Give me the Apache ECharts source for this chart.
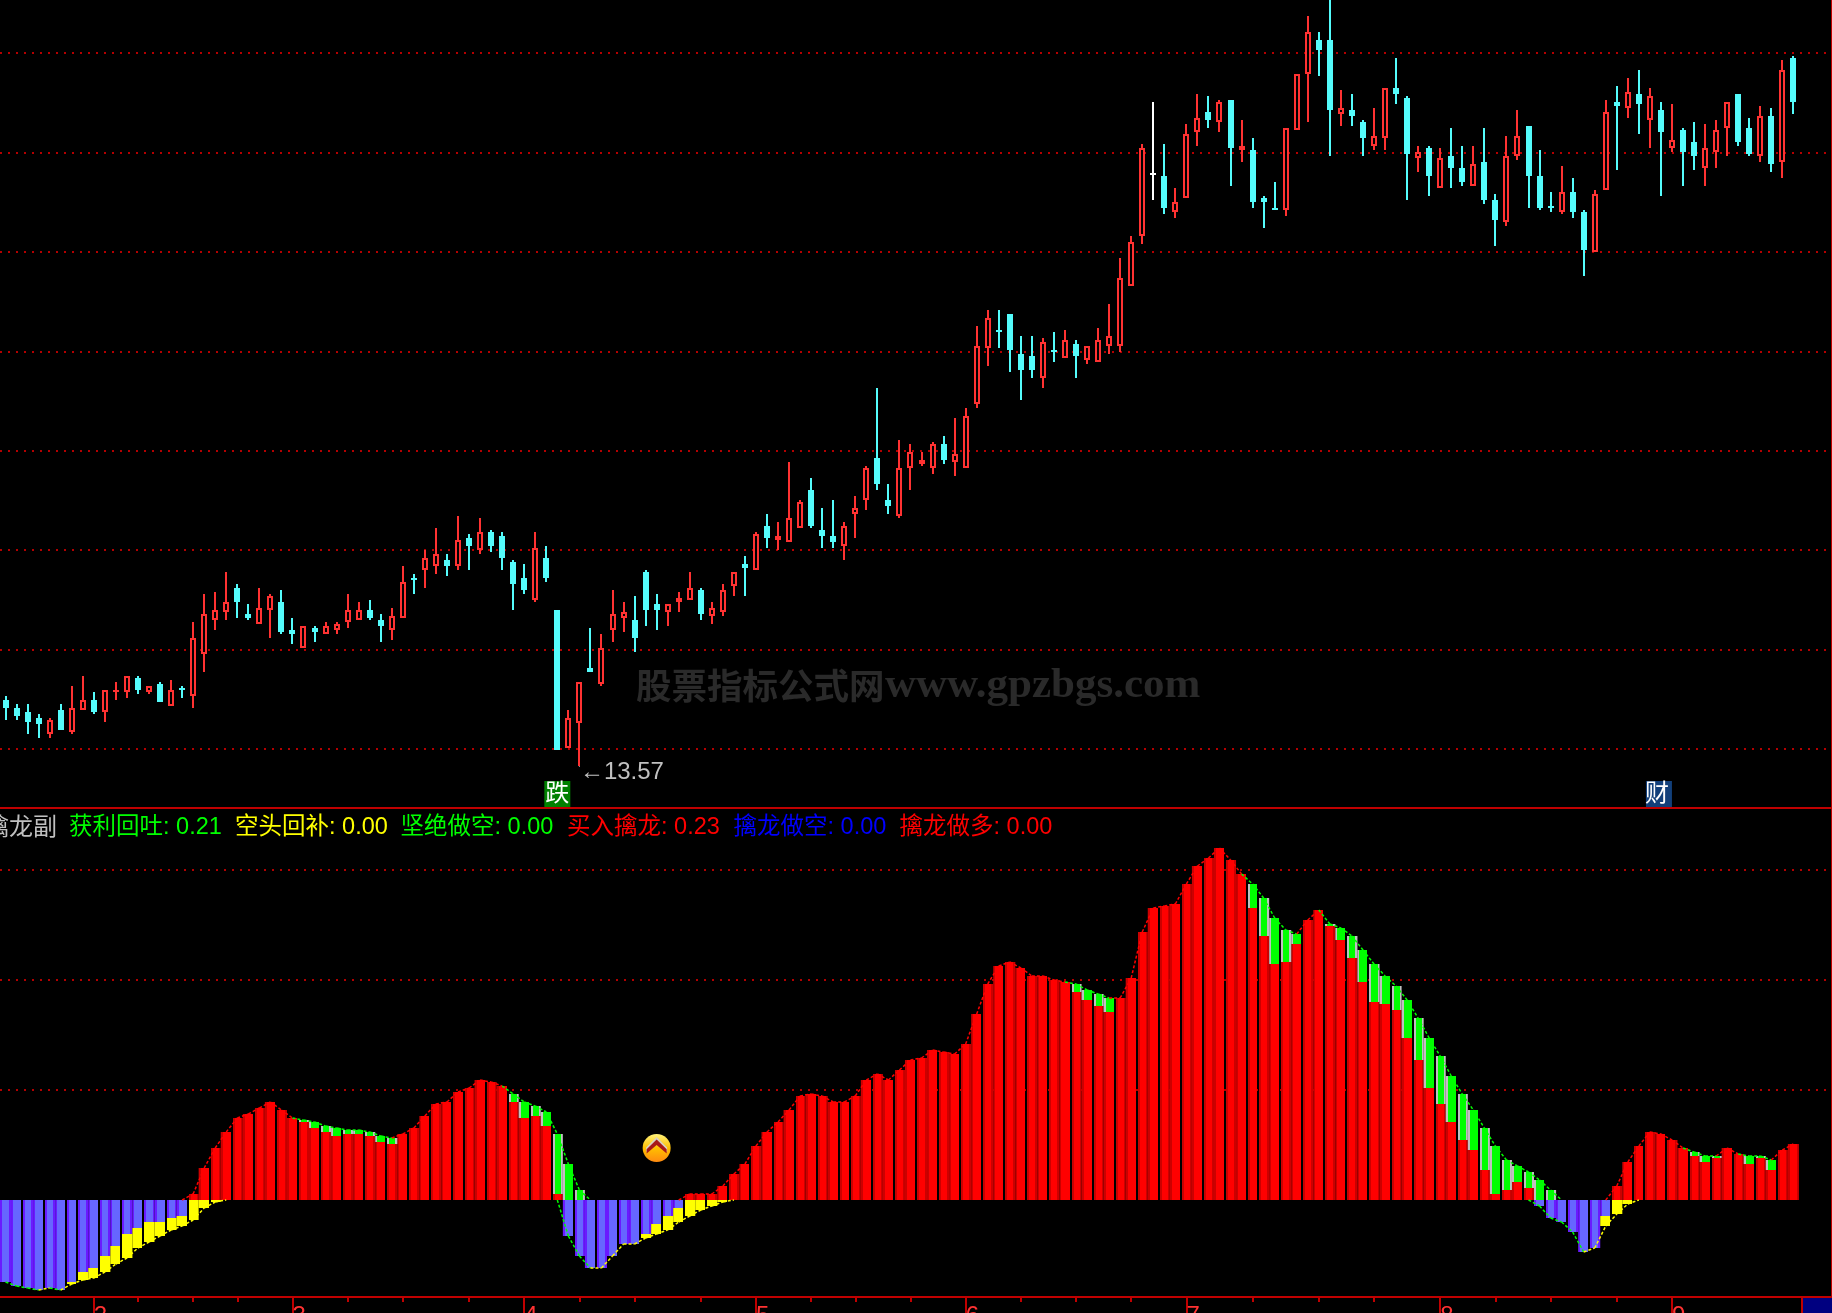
<!DOCTYPE html>
<html><head><meta charset="utf-8"><style>html,body{margin:0;padding:0;background:#000}#c{width:1832px;height:1313px}</style>
<script src="https://cdn.jsdelivr.net/npm/echarts@6/dist/echarts.min.js"></script></head><body><div id="c"></div>
<script>
const candleKinds=("ccccrcrrcr"+"rrcrcrcrrr"+"rccrrccrcr"+"rrrccrrcrr"+"crcrccccrc"+"crrcrrrccc"+"rrrcrrrcrc"+"rrrcccrrrc"+"crrrrcrrrr"+"ccccrcrcrr"+"rrrrwcrrrc"+"rcrcccrrrc"+"crccrrccrc"+"rccrccrrcc"+"crccrrcrcr"+"crccrrrccr"+"crc").split('');
const highs=[14.98,14.82,14.82,14.62,14.54,14.82,15.18,15.38,15.06,15.10,
15.26,15.38,15.38,15.18,15.26,15.30,15.18,16.46,17.02,17.06,
17.46,17.22,16.82,17.14,17.02,17.10,16.54,16.38,16.38,16.46,
16.46,17.02,16.86,16.90,16.62,16.74,17.58,17.42,17.90,18.34,
17.82,18.58,18.22,18.54,18.30,18.26,17.70,17.62,18.26,17.98,
16.70,14.70,15.26,16.34,16.22,17.10,16.86,16.98,17.50,17.02,
16.82,17.06,17.46,17.14,16.86,17.22,17.46,17.78,18.26,18.62,
18.46,19.66,18.90,19.34,18.74,18.90,18.46,18.98,19.58,21.14,
19.22,20.10,20.02,19.86,20.06,20.18,20.54,20.74,22.38,22.70,
22.70,22.62,22.18,22.18,22.14,22.26,22.30,22.10,21.98,22.34,
22.82,23.74,24.18,26.02,26.86,26.02,25.14,26.42,27.02,26.98,
26.90,26.90,26.50,26.14,24.98,25.26,26.34,27.42,28.58,28.26,
29.29,27.10,27.02,26.50,26.74,27.14,27.74,26.98,25.98,25.98,
25.94,26.34,25.98,25.98,26.34,25.02,26.18,26.70,26.38,25.90,
25.06,25.58,25.34,24.70,25.10,26.90,27.18,27.34,27.50,27.14,
26.86,26.82,26.34,26.46,26.42,26.50,26.86,27.02,26.54,26.78,
26.74,27.70,27.78];
const bodyTops=[14.90,14.74,14.66,14.54,14.50,14.70,14.74,14.90,14.90,15.10,
15.10,15.38,15.34,15.18,15.22,15.10,15.14,16.14,16.62,16.70,
16.86,17.14,16.62,16.74,16.98,16.86,16.30,16.38,16.34,16.38,
16.42,16.70,16.70,16.70,16.50,16.58,17.26,17.34,17.74,17.82,
17.70,18.10,18.14,18.26,18.26,18.18,17.66,17.34,17.94,17.74,
16.70,14.54,15.26,15.54,15.94,16.62,16.66,16.50,17.46,16.82,
16.82,16.94,17.14,17.10,16.74,17.10,17.46,17.62,18.22,18.38,
18.18,18.54,18.86,19.10,18.30,18.18,18.38,18.74,19.54,19.74,
18.90,19.54,19.86,19.70,20.02,20.02,19.82,20.58,21.98,22.54,
22.30,22.62,21.82,21.78,22.06,21.90,22.10,22.02,21.98,22.10,
22.18,23.34,24.06,25.94,25.44,25.38,24.86,26.22,26.54,26.66,
26.86,26.90,25.98,25.90,24.94,24.74,26.34,27.42,28.26,28.10,
28.10,26.74,26.70,26.46,26.18,27.14,27.14,26.94,25.86,25.94,
25.74,25.78,25.54,25.62,25.66,24.90,25.78,26.18,26.38,25.38,
24.78,25.06,25.06,24.66,25.02,26.66,26.86,27.06,27.02,26.98,
26.70,26.10,26.30,26.06,25.94,26.30,26.86,27.02,26.34,26.58,
26.58,27.50,27.74];
const bodyBottoms=[14.74,14.58,14.46,14.42,14.22,14.30,14.26,14.70,14.66,14.66,
15.06,15.06,15.10,15.06,14.86,14.78,15.10,14.98,15.82,16.50,
16.66,16.86,16.54,16.42,16.70,16.26,16.22,15.94,16.26,16.22,
16.30,16.46,16.50,16.54,16.38,16.30,16.54,17.30,17.50,17.58,
17.58,17.58,17.98,17.90,17.98,17.74,17.22,17.10,16.90,17.34,
13.90,13.94,14.43,15.46,15.22,16.30,16.54,16.14,16.70,16.70,
16.66,16.86,16.90,16.62,16.58,16.66,17.18,17.54,17.50,18.14,
18.10,18.06,18.34,18.38,18.18,18.06,17.98,18.62,18.90,19.22,
18.78,18.58,19.54,19.62,19.54,19.70,19.66,19.54,20.82,21.94,
22.26,21.90,21.50,21.50,21.34,21.86,21.74,21.78,21.70,21.66,
21.98,21.98,23.18,24.18,25.44,24.74,24.66,24.94,26.26,26.50,
26.46,25.94,25.90,24.86,24.86,24.70,24.70,26.30,27.42,27.90,
26.70,26.62,26.58,26.14,25.98,26.14,27.02,25.82,25.74,25.38,
25.14,25.54,25.26,25.18,24.90,24.50,24.46,25.78,25.38,24.74,
24.74,24.66,24.66,23.90,23.86,25.10,26.78,26.74,26.82,26.50,
26.26,25.94,25.86,25.78,25.54,25.86,26.34,26.06,25.82,25.78,
25.62,25.66,26.86];
const lows=[14.50,14.50,14.22,14.14,14.14,14.30,14.22,14.70,14.62,14.46,
14.90,14.94,15.02,15.02,14.86,14.78,14.94,14.74,15.46,16.30,
16.50,16.54,16.50,16.42,16.14,16.22,16.02,15.94,16.06,16.22,
16.22,16.34,16.50,16.50,16.06,16.10,16.54,17.02,17.14,17.42,
17.38,17.50,17.50,17.82,17.86,17.50,16.70,17.02,16.86,17.26,
13.90,13.94,13.57,15.46,15.18,16.06,16.26,15.86,16.38,16.30,
16.38,16.66,16.90,16.50,16.42,16.58,16.98,16.98,17.50,17.94,
17.90,18.06,18.34,18.34,17.94,17.94,17.70,18.14,18.70,19.10,
18.62,18.54,19.10,19.58,19.42,19.62,19.38,19.54,20.74,21.58,
21.94,21.46,20.90,21.34,21.14,21.66,21.74,21.34,21.62,21.66,
21.82,21.86,23.18,24.02,24.90,24.62,24.54,24.94,25.98,26.34,
26.26,25.18,25.66,24.74,24.34,24.70,24.58,26.30,26.46,27.38,
25.78,26.38,26.38,25.78,25.90,25.90,26.82,24.90,25.46,24.98,
25.14,25.14,25.18,25.18,24.82,23.98,24.38,25.70,24.74,24.70,
24.66,24.62,24.54,23.38,23.86,25.10,25.50,26.54,26.22,25.94,
24.98,25.86,25.18,25.50,25.18,25.54,25.78,25.98,25.78,25.66,
25.46,25.34,26.62];

const buyDragon=[0,0,0,0,0,0,0,0,0,0,
0,0,0,0,0,0,0,.024,.128,.208,
.272,.328,.344,.368,.392,.360,.328,.312,.288,.272,
.256,.264,.264,.256,.232,.224,.264,.288,.336,.384,
.392,.432,.448,.480,.472,.456,.392,.328,.336,.296,
.024,0,0,0,0,0,0,0,0,0,
0,0,.024,.024,.024,.056,.104,.144,.216,.272,
.312,.360,.416,.424,.416,.392,.392,.416,.480,.504,
.480,.520,.560,.568,.600,.592,.584,.624,.744,.864,
.936,.952,.928,.896,.896,.880,.872,.832,.800,.776,
.752,.808,.888,1.072,1.168,1.176,1.184,1.264,1.336,1.368,
1.408,1.360,1.304,1.168,1.056,.944,.952,1.024,1.120,1.160,
1.096,1.040,.968,.872,.792,.784,.760,.648,.560,.448,
.384,.312,.240,.200,.120,.024,.040,.072,.048,0,
0,0,0,0,0,0,.056,.152,.216,.272,
.264,.240,.208,.176,.152,.168,.208,.184,.144,.168,
.120,.200,.224];
const profitTaking=[0,0,0,0,0,0,0,0,0,0,
0,0,0,0,0,0,0,0,0,0,
0,0,0,0,0,0,0,.008,.024,.024,
.032,.016,.016,.016,.024,.024,0,0,0,0,
0,0,0,0,0,0,.032,.064,.040,.056,
.240,.144,.040,0,0,0,0,0,0,0,
0,0,0,0,0,0,0,0,0,0,
0,0,0,0,0,0,0,0,0,0,
0,0,0,0,0,0,0,0,0,0,
0,0,0,0,0,0,0,.032,.040,.048,
.056,0,0,0,0,0,0,0,0,0,
0,0,0,.096,.152,.184,.128,.040,0,0,
.008,.048,.088,.128,.152,.112,.096,.152,.168,.200,
.192,.184,.184,.160,.168,.192,.120,.064,.064,.080,
.040,0,0,0,0,0,0,0,0,0,
0,0,0,.016,.024,.008,0,0,.032,.008,
.040,0,0];
const firmShort=[-.328,-.344,-.352,-.360,-.352,-.360,-.328,-.288,-.272,-.224,
-.184,-.136,-.112,-.088,-.088,-.072,-.064,0,0,0,
0,0,0,0,0,0,0,0,0,0,
0,0,0,0,0,0,0,0,0,0,
0,0,0,0,0,0,0,0,0,0,
0,-.144,-.224,-.272,-.272,-.224,-.176,-.176,-.136,-.096,
-.064,-.032,0,0,0,0,0,0,0,0,
0,0,0,0,0,0,0,0,0,0,
0,0,0,0,0,0,0,0,0,0,
0,0,0,0,0,0,0,0,0,0,
0,0,0,0,0,0,0,0,0,0,
0,0,0,0,0,0,0,0,0,0,
0,0,0,0,0,0,0,0,0,0,
0,0,0,0,0,0,0,0,0,-.024,
-.072,-.088,-.128,-.208,-.192,-.064,0,0,0,0,
0,0,0,0,0,0,0,0,0,0,
0,0,0];
const shortCover=[0,0,0,0,0,0,-.008,-.032,-.040,-.064,
-.072,-.096,-.080,-.080,-.056,-.048,-.040,-.080,-.032,-.008,
0,0,0,0,0,0,0,0,0,0,
0,0,0,0,0,0,0,0,0,0,
0,0,0,0,0,0,0,0,0,0,
0,0,0,0,0,0,0,0,-.016,-.040,
-.056,-.056,-.064,-.040,-.024,-.008,0,0,0,0,
0,0,0,0,0,0,0,0,0,0,
0,0,0,0,0,0,0,0,0,0,
0,0,0,0,0,0,0,0,0,0,
0,0,0,0,0,0,0,0,0,0,
0,0,0,0,0,0,0,0,0,0,
0,0,0,0,0,0,0,0,0,0,
0,0,0,0,0,0,0,0,0,0,
0,0,0,0,0,-.040,-.056,-.016,0,0,
0,0,0,0,0,0,0,0,0,0,
0,0,0];

const monthTicks=[8,26,47,68,87,107,130,151];
const monthLabels=['2','3','4','5','6','7','8','9'];
const minorTicks=[12,17,21,31,36,42,52,57,63,73,77,82,92,97,102,113,119,124,135,140,146];
const legendNames=['获利回吐','空头回补','坚绝做空','买入擒龙','擒龙做空','擒龙做多'];
const legendValues=['0.21','0.00','0.00','0.23','0.00','0.00'];
const legendColors=['#00ff00','#ffff00','#00ff00','#ff0000','#0000ff','#ff0000'];
const legendLefts=[69,235,400.5,567,733.5,899.5];
const lowerGridLevels=[0.444,0.876,1.316];
const priceStep=1.9886;
const slotCount=166, bandW=1832/slotCount;

const gaps=new Set();
[[2,6],[7,41],[42,76],[77,113],[114,148],[149,161]].forEach(([a,b])=>{for(let i=a;i<=b;i+=2)gaps.add(i)});
function fill(i,bright,dark){
  const w=bandW,s=[],add=(o,c)=>s.push({offset:o,color:c}),black='rgba(0,0,0,0)';
  if(gaps.has(i)){add(0,black);add(1/w,black);add(1/w,dark);add(3/w,dark);add(3/w,bright);}
  else{add(0,dark);add(2/w,dark);add(2/w,bright);}
  if(gaps.has(i+1)){add((w-1)/w,bright);add((w-1)/w,black);add(1,black);}
  else{add((w-2)/w,bright);add((w-2)/w,dark);add(1,dark);}
  return new echarts.graphic.LinearGradient(0,0,1,0,s);
}
const styled=(arr,b,d)=>arr.map((v,i)=>({value:v,itemStyle:{color:fill(i,b,d)}}));

const RED='#ff3232',CYAN='#54fcfc',GRID='#b40000',AX='#c00000';
const candles=candleKinds.map((k,i)=>{
  const up=k==='r';
  return [i,up?bodyBottoms[i]:bodyTops[i],up?bodyTops[i]:bodyBottoms[i],lows[i],highs[i]];
});
function renderCandle(p,api){
  const i=api.value(0),kind=candleKinds[i];
  const col=kind==='r'?RED:kind==='c'?CYAN:'#ffffff';
  const o=api.value(1),c=api.value(2);
  const cx=Math.round(api.coord([i,o])[0]);
  const yT=Math.round(api.coord([i,Math.max(o,c)])[1]);
  let yB=Math.round(api.coord([i,Math.min(o,c)])[1]);
  if(yB-yT<2)yB=yT+2;
  const yH=Math.round(api.coord([i,api.value(4)])[1]);
  const yL=Math.round(api.coord([i,api.value(3)])[1]);
  const r=(x,y,w,h,f)=>({type:'rect',shape:{x,y,width:w,height:h},style:{fill:f}});
  const kids=[r(cx-1,yH,2,Math.max(yL-yH,0),col),r(cx-3,yT,6,yB-yT,col)];
  if(kind==='r'&&yB-yT>4)kids.push(r(cx-1,yT+2,2,yB-yT-4,'#000'));
  if(kind==='r'&&yB-yT>0&&yB-yT<=4)kids.push(r(cx-1,yT+Math.min(2,(yB-yT)/2)-0,2,0,'#000'));
  return {type:'group',children:kids};
}

const pos=buyDragon.map((v,i)=>v+profitTaking[i]);
const neg=firmShort.map((v,i)=>v+shortCover[i]);
const segs=[];
for(let i=1;i<pos.length;i++){
  if(pos[i-1]>0||pos[i]>0){
    const falling=pos[i]<pos[i-1];
    const green=profitTaking[i]>0||(profitTaking[i-1]>0&&falling);
    segs.push({value:[i,pos[i-1],pos[i]],c:green?'#00ff00':'#ff0000'});
  }
  if(neg[i-1]<0||neg[i]<0)segs.push({value:[i,neg[i-1],neg[i]],c:neg[i]<neg[i-1]?'#00ff00':'#ffff00'});
}
const slots=Array.from({length:slotCount},(_,i)=>String(i));
const hiddenY={show:true,axisLine:{show:false},axisTick:{show:false},axisLabel:{show:false}};
const FONT='"Liberation Sans","Noto Sans CJK SC",sans-serif';

const texts=[];
texts.push({type:'text',z:100,silent:true,x:57,y:828,style:{text:'擒龙副',fill:'#c0c0c0',font:'24px '+FONT,align:'right',verticalAlign:'middle'}});
legendNames.forEach((n,i)=>texts.push({type:'text',z:100,silent:true,x:legendLefts[i],y:828,
  style:{text:n+': '+legendValues[i],fill:legendColors[i],font:'23.5px '+FONT,align:'left',verticalAlign:'middle'}}));
texts.push({type:'text',z:1,silent:true,x:636,y:686,style:{text:'股票指标公式网',fill:'#2a2a2a',font:'bold 35.5px "Noto Sans CJK SC",serif',align:'left',verticalAlign:'middle'}});
texts.push({type:'text',z:1,silent:true,x:885,y:686,style:{text:'www.gpzbgs.com',fill:'#2a2a2a',font:'bold 43px "Liberation Serif",serif',align:'left',verticalAlign:'middle'}});
const rect=(x,y,w,h,c)=>({type:'rect',z:100,silent:true,shape:{x,y,width:w,height:h},style:{fill:c}});
texts.push(rect(0,807,1832,2,AX),rect(0,1296,1832,2,AX),rect(1831,0,1,1313,AX),rect(1803,1298,29,15,'#000080'),rect(1801,1298,2,15,AX));

const option={
 backgroundColor:'#000',animation:false,
 grid:[{left:0,right:0,top:0,height:848.4,outerBoundsMode:'none'},{left:0,right:0,top:820,height:477,outerBoundsMode:'none'}],
 xAxis:[
  {type:'category',gridIndex:0,data:slots,show:false},
  {type:'category',gridIndex:1,position:'bottom',data:slots,axisLine:{show:false,onZero:false},
   axisTick:{show:true,alignWithLabel:true,length:16,interval:i=>monthTicks.includes(i),lineStyle:{color:AX,width:2}},
   axisLabel:{show:true,interval:i=>monthTicks.includes(i),formatter:(v,i)=>monthLabels[monthTicks.indexOf(+v)]||'',align:'left',padding:[0,0,0,0],margin:7,color:RED,fontSize:24,fontFamily:FONT}},
  {type:'category',gridIndex:1,position:'bottom',data:slots,axisLine:{show:false,onZero:false},
   axisTick:{show:true,alignWithLabel:true,length:5,interval:i=>minorTicks.includes(i),lineStyle:{color:AX,width:2}},axisLabel:{show:false}}
 ],
 yAxis:[
  Object.assign({type:'value',gridIndex:0,min:priceStep*6,max:28.9,interval:priceStep,
    splitLine:{show:true,showMinLine:false,showMaxLine:false,lineStyle:{color:GRID,width:2,type:[2,6]}}},hiddenY),
  Object.assign({type:'value',gridIndex:1,min:-0.388,max:1.52,splitLine:{show:false}},hiddenY)
 ],
 series:[
  {type:'custom',name:'K',xAxisIndex:0,yAxisIndex:0,data:candles,z:3,silent:true,clip:true,encode:{x:0,y:[1,2,3,4]},renderItem:renderCandle,
   markPoint:{silent:true,animation:false,data:[
    {coord:[50,13.02],symbol:'rect',symbolSize:26,itemStyle:{color:'#008000'},label:{show:true,position:'inside',formatter:'跌',color:'#fff',fontSize:24,fontFamily:FONT}},
    {coord:[150,13.02],symbol:'rect',symbolSize:26,symbolOffset:[-2,0],itemStyle:{color:'#123f7a'},label:{show:true,position:'inside',offset:[-2,0],formatter:'财',color:'#fff',fontSize:24,fontFamily:FONT}},
    {coord:[52,13.57],symbol:'circle',symbolSize:1,itemStyle:{color:'#c0c0c0'},label:{show:true,position:'right',distance:0,offset:[0,6],formatter:'←13.57',color:'#c0c0c0',fontSize:24,fontFamily:FONT}},
    {coord:[120,29.29],symbol:'circle',symbolSize:1,itemStyle:{color:'#c0c0c0'},label:{show:true,position:'right',distance:0,offset:[30,18],formatter:'29.29',color:'#c0c0c0',fontSize:24,fontFamily:FONT}}
   ]}},
  {type:'bar',name:'买入擒龙',xAxisIndex:1,yAxisIndex:1,stack:'flow',barWidth:'100%',z:2,data:styled(buyDragon,'#ff0000','#cc0000'),
   markLine:{silent:true,z:0,symbol:'none',animation:false,label:{show:false},lineStyle:{color:GRID,width:2,type:[2,6]},data:lowerGridLevels.map(v=>({yAxis:v}))},
   markPoint:{silent:true,z:6,animation:false,data:[
    {coord:[59,0.208],symbol:'circle',symbolSize:28,itemStyle:{color:new echarts.graphic.LinearGradient(0,0,0,1,[{offset:0,color:'#fff27a'},{offset:.5,color:'#ffc000'},{offset:1,color:'#ff8a10'}])}},
    {coord:[59,0.222],symbol:'path://M0 14 L10 0 L20 14 L20 20 L10 8 L0 20 Z',symbolSize:[21,15],itemStyle:{color:'#d8d0c0'}},
    {coord:[59,0.214],symbol:'path://M0 14 L10 0 L20 14 L20 20 L10 8 L0 20 Z',symbolSize:[20,14],itemStyle:{color:'#a81818'}}
   ]}},
  {type:'bar',name:'获利回吐',xAxisIndex:1,yAxisIndex:1,stack:'flow',barWidth:'100%',z:2,data:styled(profitTaking,'#00ff00','#c0c0c0')},
  {type:'bar',name:'坚绝做空',xAxisIndex:1,yAxisIndex:1,stack:'flow',barWidth:'100%',z:2,data:styled(firmShort,'#6666ff','#6a1aff')},
  {type:'bar',name:'空头回补',xAxisIndex:1,yAxisIndex:1,stack:'flow',barWidth:'100%',z:2,data:styled(shortCover,'#ffff00','#ffff00')},
  {type:'custom',name:'trend',xAxisIndex:1,yAxisIndex:1,z:4,silent:true,clip:false,encode:{x:0,y:[1,2]},data:segs,
   renderItem:(p,api)=>{
    const i=api.value(0),a=api.coord([i-1,api.value(1)]),b=api.coord([i,api.value(2)]);
    return {type:'line',shape:{x1:a[0],y1:a[1],x2:b[0],y2:b[1]},style:{stroke:segs[p.dataIndex].c,lineWidth:1.5,lineDash:[3,2],fill:null}};
   }}
 ],
 graphic:texts
};
echarts.init(document.getElementById('c'),null,{renderer:'canvas'}).setOption(option);
</script></body></html>
